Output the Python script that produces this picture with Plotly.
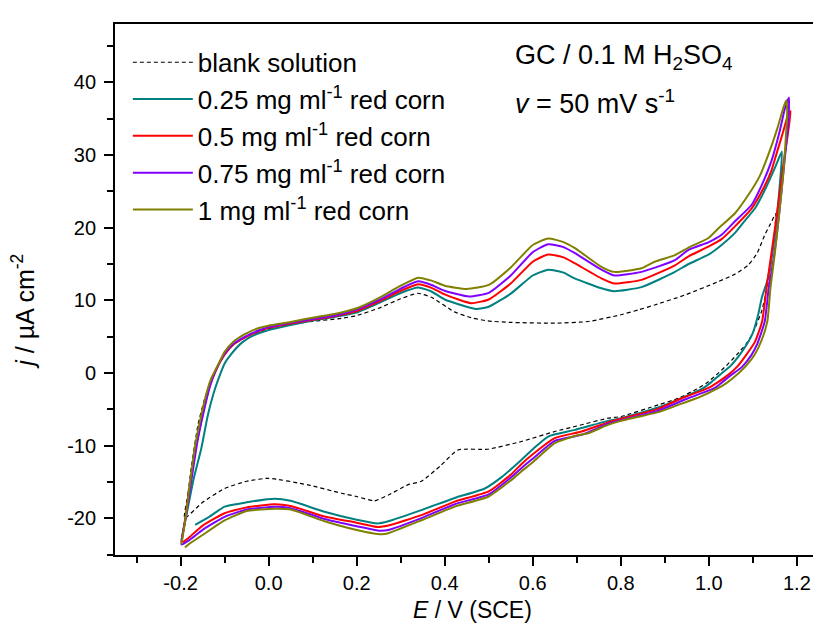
import plotly.graph_objects as go

# ---------------- data ----------------
series_names = [
    "blank solution",
    "0.25 mg ml<sup>-1</sup> red corn",
    "0.5 mg ml<sup>-1</sup> red corn",
    "0.75 mg ml<sup>-1</sup> red corn",
    "1 mg ml<sup>-1</sup> red corn",
]

blank_E = [-0.191, -0.183, -0.175, -0.16, -0.145, -0.13, -0.12, -0.1, -0.08, -0.05, 0.0, 0.05, 0.1, 0.165, 0.2,
           0.25, 0.3, 0.339, 0.37, 0.422, 0.46, 0.498, 0.55, 0.65, 0.726, 0.8, 0.84, 0.877, 0.945, 1.022, 1.06,
           1.09, 1.11, 1.127, 1.14, 1.152,
           1.145, 1.135, 1.12, 1.1, 1.085, 1.063, 1.04, 1.017, 0.995, 0.976, 0.931, 0.885, 0.8, 0.771, 0.7,
           0.65, 0.574, 0.498, 0.43, 0.39, 0.347, 0.316, 0.272, 0.24, 0.2, 0.165, 0.089, 0.0, -0.05, -0.1,
           -0.15, -0.191]
blank_j = [-20.0, -16.5, -12.7, -7.0, -3.5, -0.9, 0.5, 2.6, 3.9, 5.0, 6.1, 6.7, 7.1, 7.5, 7.9,
           8.9, 10.2, 10.96, 10.4, 8.4, 7.6, 7.15, 6.95, 6.84, 7.07, 8.0, 8.67, 9.35, 10.7, 12.57, 13.6,
           14.86, 16.5, 18.98, 20.5, 21.9,
           17.0, 12.5, 8.5, 5.5, 4.0, 2.48, 1.0, -0.27, -1.4, -2.1, -3.48, -4.4, -6.0, -6.23, -7.3,
           -8.06, -9.44, -10.5, -10.6, -12.8, -14.9, -15.4, -16.8, -17.6, -17.0, -16.55, -15.4, -14.5, -14.9, -15.9,
           -17.8, -20.0]

c025_E = [-0.198, -0.185, -0.17, -0.153, -0.138, -0.125, -0.115, -0.1, -0.085, -0.06, -0.04, 0.0, 0.05, 0.1,
          0.15, 0.2, 0.25, 0.3, 0.34, 0.37, 0.4, 0.47, 0.5, 0.55, 0.6, 0.635, 0.67, 0.695, 0.756, 0.785, 0.847,
          0.923, 0.953, 1.0, 1.029, 1.06, 1.08, 1.105, 1.13, 1.15, 1.166,
          1.16, 1.152, 1.143, 1.132, 1.121, 1.112, 1.1, 1.085, 1.07, 1.05, 1.025, 1.005, 0.987, 0.938, 0.885,
          0.8, 0.771, 0.696, 0.635, 0.6, 0.574, 0.53, 0.491, 0.423, 0.35, 0.272, 0.248, 0.2, 0.127, 0.05,
          0.014, -0.05, -0.1, -0.135, -0.167]
c025_j = [-23.0, -19.0, -14.5, -10.4, -5.8, -2.8, -1.0, 1.3, 2.6, 4.2, 5.0, 5.9, 6.6, 7.2,
          7.7, 8.3, 9.6, 11.0, 11.75, 11.2, 10.1, 8.8, 9.1, 10.9, 13.4, 14.2, 13.8, 13.0, 11.65, 11.25, 11.8,
          13.9, 14.95, 16.3, 17.6, 19.3, 20.8, 22.65, 25.5, 28.2, 30.45,
          25.0, 20.0, 16.0, 12.5, 10.5, 8.0, 5.5, 3.8, 2.48, 1.0, -0.27, -1.3, -2.1, -3.48, -4.76,
          -6.23, -6.6, -7.84, -8.75, -10.5, -11.97, -14.3, -15.9, -17.2, -18.8, -20.4, -20.7, -20.2, -19.1, -17.6,
          -17.3, -17.8, -18.4, -19.8, -20.9]

c05_E = [-0.198, -0.188, -0.178, -0.163, -0.148, -0.135, -0.12, -0.1, -0.08, -0.05, -0.02, 0.0, 0.05, 0.1,
         0.15, 0.2, 0.25, 0.3, 0.34, 0.37, 0.4, 0.46, 0.5, 0.55, 0.6, 0.635, 0.67, 0.695, 0.756, 0.785, 0.847,
         0.923, 0.953, 1.0, 1.029, 1.06, 1.097, 1.125, 1.142, 1.153, 1.168, 1.18, 1.186,
         1.17, 1.155, 1.14, 1.131, 1.121, 1.105, 1.085, 1.065, 1.044, 1.02, 0.998, 0.938, 0.885, 0.8, 0.771,
         0.711, 0.65, 0.6, 0.574, 0.55, 0.5, 0.423, 0.35, 0.272, 0.248, 0.2, 0.127, 0.05, 0.014, -0.05,
         -0.1, -0.15, -0.18, -0.195]
c05_j = [-23.3, -19.5, -15.0, -9.5, -5.2, -2.0, 0.3, 2.5, 3.9, 5.0, 5.8, 6.2, 6.8, 7.3,
         7.8, 8.5, 9.8, 11.3, 12.2, 11.7, 10.8, 9.6, 10.1, 12.3, 15.3, 16.3, 15.9, 15.1, 13.0, 12.3, 12.8,
         14.8, 16.0, 17.4, 18.4, 20.2, 22.6, 25.5, 27.8, 30.0, 33.0, 35.5, 36.0,
         29.0, 22.0, 15.5, 11.65, 7.07, 4.3, 2.48, 0.9, -0.27, -1.3, -2.1, -3.48, -4.95, -6.3, -6.8,
         -8.06, -8.98, -11.2, -12.56, -14.0, -16.3, -17.7, -19.5, -21.0, -21.2, -20.6, -19.75, -18.3, -18.06, -18.5,
         -19.3, -21.0, -22.6, -23.3]

c075_E = [-0.198, -0.188, -0.176, -0.162, -0.147, -0.134, -0.12, -0.1, -0.08, -0.05, -0.02, 0.0, 0.05, 0.1,
          0.15, 0.2, 0.25, 0.3, 0.34, 0.37, 0.4, 0.455, 0.5, 0.55, 0.6, 0.635, 0.67, 0.695, 0.756, 0.785, 0.847,
          0.923, 0.953, 1.0, 1.029, 1.06, 1.097, 1.12, 1.142, 1.16, 1.173, 1.182,
          1.18, 1.17, 1.16, 1.148, 1.136, 1.127, 1.11, 1.097, 1.075, 1.051, 1.03, 1.013, 0.953, 0.885, 0.8,
          0.771, 0.711, 0.65, 0.6, 0.574, 0.55, 0.5, 0.423, 0.35, 0.272, 0.25, 0.2, 0.127, 0.05, 0.014,
          -0.05, -0.1, -0.15, -0.18, -0.198]
c075_j = [-23.6, -19.8, -15.0, -9.5, -5.2, -2.0, 0.4, 2.6, 4.0, 5.1, 5.9, 6.3, 6.9, 7.4,
          7.9, 8.7, 10.0, 11.6, 12.6, 12.1, 11.3, 10.5, 11.0, 13.4, 16.6, 17.7, 17.3, 16.5, 14.2, 13.4, 13.9,
          15.5, 16.9, 18.0, 19.0, 20.9, 23.1, 25.8, 29.1, 33.0, 36.4, 37.9,
          34.0, 28.0, 22.0, 16.0, 11.65, 7.07, 4.0, 2.48, 0.8, -0.27, -1.3, -2.1, -3.48, -5.2, -6.5,
          -7.0, -8.5, -9.35, -11.8, -13.1, -14.4, -16.7, -18.06, -19.9, -21.6, -21.7, -21.1, -20.1, -18.6, -18.4,
          -18.8, -19.8, -21.6, -23.0, -23.6]

c1_E = [-0.198, -0.19, -0.183, -0.168, -0.153, -0.138, -0.13, -0.115, -0.1, -0.08, -0.055, -0.024, 0.0, 0.05,
        0.1, 0.15, 0.2, 0.25, 0.3, 0.34, 0.37, 0.4, 0.45, 0.5, 0.55, 0.6, 0.635, 0.67, 0.695, 0.756, 0.785,
        0.847, 0.877, 0.923, 0.953, 1.0, 1.022, 1.06, 1.09, 1.115, 1.135, 1.155, 1.17, 1.176,
        1.178, 1.17, 1.16, 1.15, 1.14, 1.133, 1.12, 1.104, 1.085, 1.063, 1.04, 1.021, 0.98, 0.953, 0.885,
        0.8, 0.771, 0.726, 0.7, 0.65, 0.6, 0.574, 0.55, 0.5, 0.423, 0.35, 0.272, 0.256, 0.2, 0.127, 0.05,
        0.014, -0.05, -0.1, -0.15, -0.18, -0.19]
c1_j = [-23.6, -20.5, -17.2, -10.4, -5.8, -2.1, -0.7, 1.1, 2.9, 4.3, 5.3, 6.15, 6.5, 7.0,
        7.6, 8.1, 8.9, 10.3, 12.0, 13.1, 12.7, 12.0, 11.55, 12.1, 14.5, 17.6, 18.5, 18.0, 17.2, 14.6, 13.9,
        14.4, 15.3, 16.2, 17.2, 18.6, 19.9, 22.0, 24.5, 27.0, 30.0, 33.5, 36.6, 37.5,
        36.0, 28.0, 22.0, 16.5, 11.7, 7.1, 4.5, 2.5, 1.0, -0.3, -1.4, -2.1, -3.3, -3.9, -5.4,
        -6.6, -7.15, -8.3, -8.6, -9.67, -12.3, -13.56, -14.8, -17.0, -18.4, -20.2, -22.05, -22.2, -21.6, -20.4, -18.8,
        -18.7, -19.0, -20.3, -22.3, -23.5, -24.0]

x_tick_values = [-0.2, 0.0, 0.2, 0.4, 0.6, 0.8, 1.0, 1.2]
x_tick_labels = ["-0.2", "0.0", "0.2", "0.4", "0.6", "0.8", "1.0", "1.2"]
y_tick_values = [-20, -10, 0, 10, 20, 30, 40]
y_tick_labels = ["-20", "-10", "0", "10", "20", "30", "40"]

# ---------------- styling ----------------
FONT = "Liberation Sans, Arial, sans-serif"
series = [
    (blank_E, blank_j, "#000000", 1.2, "4px,3px"),
    (c025_E, c025_j, "#008080", 2.0, "solid"),
    (c05_E, c05_j, "#FF0000", 2.0, "solid"),
    (c075_E, c075_j, "#8000FF", 2.0, "solid"),
    (c1_E, c1_j, "#808000", 2.0, "solid"),
]

fig = go.Figure()
for name, (E, j, col, w, dash) in zip(series_names, series):
    fig.add_trace(go.Scatter(
        x=E, y=j, mode="lines", name=name,
        line=dict(color=col, width=w, dash=dash, shape="spline", smoothing=0.5),
        legendgroup=name,
    ))

axis_common = dict(
    showline=True, linecolor="black", linewidth=1.8,
    ticks="outside", ticklen=9, tickwidth=1.8, tickcolor="black",
    showgrid=False, zeroline=False,
    tickfont=dict(family=FONT, size=20, color="black"),
)

fig.update_layout(
    width=821, height=626,
    margin=dict(l=107, r=0, t=16, b=79),
    paper_bgcolor="white", plot_bgcolor="white",
    font=dict(family=FONT, color="black"),
    xaxis=dict(
        range=[-0.349, 1.273], tickmode="array",
        tickvals=x_tick_values, ticktext=x_tick_labels,
        minor=dict(tickmode="linear", tick0=-0.3, dtick=0.1, ticklen=6, tickwidth=1.8,
                   tickcolor="black", ticks="outside", showgrid=False),
        mirror=True,
        **axis_common,
    ),
    yaxis=dict(
        range=[-25.05, 48.0], tickmode="array",
        tickvals=y_tick_values, ticktext=y_tick_labels,
        minor=dict(tickmode="linear", tick0=-25, dtick=5, ticklen=6, tickwidth=1.8,
                   tickcolor="black", ticks="outside", showgrid=False),
        ticklabelstandoff=4,
        **axis_common,
    ),
    showlegend=True,
    legend=dict(
        x=0.018, y=0.972, xanchor="left", yanchor="top",
        bgcolor="rgba(0,0,0,0)", borderwidth=0,
        font=dict(family=FONT, size=26, color="black"),
        tracegroupgap=0, itemwidth=60,
    ),
    annotations=[
        dict(text="<i>E</i> / V (SCE)", xref="paper", yref="paper", x=0.5, y=-0.104,
             xanchor="center", yanchor="middle", showarrow=False,
             font=dict(family=FONT, size=23, color="black")),
        dict(text="<i>j</i> / µA cm<sup>-2</sup>", xref="paper", yref="paper", x=-0.129, y=0.46,
             xanchor="center", yanchor="middle", showarrow=False, textangle=-90,
             font=dict(family=FONT, size=25, color="black")),
        dict(text="GC / 0.1 M H<sub>2</sub>SO<sub>4</sub>", xref="paper", yref="paper",
             x=0.557, y=0.938, xanchor="left", yanchor="middle", showarrow=False,
             font=dict(family=FONT, size=27, color="black")),
        dict(text="<i>v</i> = 50 mV s<sup>-1</sup>", xref="paper", yref="paper",
             x=0.557, y=0.853, xanchor="left", yanchor="middle", showarrow=False,
             font=dict(family=FONT, size=27, color="black")),
    ],
)

fig.write_html("out.html")
